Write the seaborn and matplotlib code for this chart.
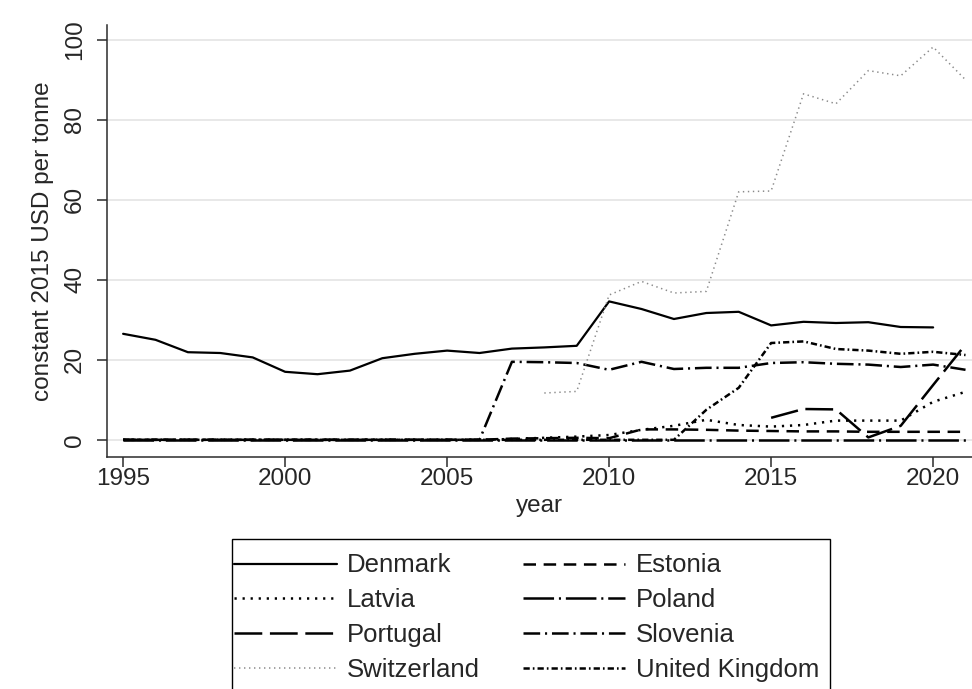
import matplotlib
matplotlib.use("Agg")
import matplotlib.pyplot as plt
from matplotlib.patches import Rectangle
import seaborn as sns
import pandas as pd

# --- Data ---

years = list(range(1995, 2022))

denmark = [26.5, 25.0, 21.9, 21.7, 20.6, 17.0, 16.4, 17.3, 20.4, 21.5, 22.3, 21.7, 22.8, 23.1,
           23.5, 34.6, 32.7, 30.2, 31.7, 32.0, 28.6, 29.5, 29.2, 29.4, 28.2, 28.1, None]
estonia = [0, 0, 0, 0, 0, 0, 0, 0, 0, 0, 0, 0, 0.3, 0.4,
           0.5, 0.4, 2.6, 2.6, 2.5, 2.3, 2.2, 2.1, 2.1, 2.0, 2.0, 2.0, 2.0]
latvia = [0, 0, 0, 0, 0, 0, 0, 0, 0, 0, 0, 0, 0.2, 0.5,
          0.8, 1.2, 2.5, 3.5, 5.0, 3.7, 3.3, 3.7, 4.8, 4.8, 4.8, 9.5, 12.0]
poland = [0, 0, 0, 0, 0, 0, 0, 0, 0, 0, 0, 0, 0, 0,
          0, 0, 0, 0, 0, 0, 0, 0, 0, 0, 0, 0, 0]
portugal = [None, None, None, None, None, None, None, None, None, None, None, None, None, None,
            None, None, None, None, None, None, 5.5, 7.7, 7.6, 0.6, 3.5, 13.7, 23.8]
slovenia = [0, 0, 0, 0, 0, 0, 0, 0, 0, 0, 0, 0, 19.5, 19.4,
            19.2, 17.5, 19.5, 17.7, 18.0, 18.0, 19.2, 19.4, 19.0, 18.8, 18.2, 18.8, 17.5]
switzerland = [None, None, None, None, None, None, None, None, None, None, None, None, None, 11.7,
               12.1, 36.2, 39.6, 36.7, 37.1, 62.0, 62.2, 86.5, 84.0, 92.3, 91.0, 98.2, 90.0]
united_kingdom = [0, 0, 0, 0, 0, 0, 0, 0, 0, 0, 0, 0, 0, 0,
                  0, 0, 0, 0, 7.5, 13.0, 24.2, 24.6, 22.7, 22.3, 21.5, 22.0, 21.2]

countries = ["Denmark", "Estonia", "Latvia", "Poland", "Portugal",
             "Slovenia", "Switzerland", "United Kingdom"]
series = [denmark, estonia, latvia, poland, portugal, slovenia, switzerland, united_kingdom]

# --- Styles (dash patterns in points, Stata mono look) ---

dash_styles = {
    "Denmark": "-",
    "Estonia": (0, (9, 5.5)),
    "Latvia": (0, (1.6, 4.2)),
    "Poland": (0, (22, 3.5, 1.5, 3.5)),
    "Portugal": (0, (20, 5.5)),
    "Slovenia": (0, (12, 3.5, 1.5, 3.5)),
    "Switzerland": (0, (1.0, 2.6)),
    "United Kingdom": (0, (4.5, 2.2, 1.2, 2.2)),
}
colors = {c: "black" for c in countries}
colors["Switzerland"] = "#8a8a8a"
widths = {c: 1.8 for c in countries}
widths["Denmark"] = 1.6
widths["Switzerland"] = 1.1

sns.set_style("white")
plt.rcParams["font.family"] = ["Liberation Sans", "DejaVu Sans"]
plt.rcParams["lines.scale_dashes"] = False

df = pd.DataFrame({"year": years})
for name, vals in zip(countries, series):
    df[name] = pd.to_numeric(pd.Series(vals, dtype="float"))

fig = plt.figure(figsize=(9.72, 6.89), dpi=100)
ax = fig.add_axes([0.110, 0.337, 0.89, 0.627])

for name in countries:
    sub = df[["year", name]].dropna()
    sns.lineplot(data=sub, x="year", y=name, ax=ax, color=colors[name],
                 linestyle=dash_styles[name], linewidth=widths[name], label=name)

ax.set_xlim(1994.5, 2021.2)
ax.set_ylim(-4.25, 103.75)
ax.set_xticks([1995, 2000, 2005, 2010, 2015, 2020])
ax.set_yticks([0, 20, 40, 60, 80, 100])
ax.yaxis.grid(True, color="#e6e6e6", linewidth=1.3)
ax.xaxis.grid(False)
ax.set_axisbelow(True)

for side in ["top", "right"]:
    ax.spines[side].set_visible(False)
for side in ["left", "bottom"]:
    ax.spines[side].set_color("#2b2b2b")
    ax.spines[side].set_linewidth(1.1)

ax.tick_params(axis="both", which="major", labelsize=17.5, length=7, width=1.1,
               color="#2b2b2b", direction="out", bottom=True, left=True)
ax.tick_params(axis="x", pad=1)
ax.tick_params(axis="y", pad=8, labelrotation=90)
for lab in ax.get_yticklabels():
    lab.set_verticalalignment("center")

ax.set_xlabel("year", fontsize=17.5, labelpad=4)
ax.set_ylabel("constant 2015 USD per tonne", fontsize=17.5, labelpad=7)

# legend: Stata fills rows first, matplotlib fills columns first
handles, labels = ax.get_legend_handles_labels()
ax.get_legend().remove()
order = ["Denmark", "Latvia", "Portugal", "Switzerland",
         "Estonia", "Poland", "Slovenia", "United Kingdom"]
h_map = dict(zip(labels, handles))
fig.legend([h_map[n] for n in order], order, loc="upper left",
           bbox_to_anchor=(234 / 972, 1 - 553.5 / 689), ncol=2, fontsize=18.5,
           frameon=False, handlelength=4.0, handletextpad=0.39, columnspacing=1.67,
           labelspacing=0.42, borderpad=0, borderaxespad=0)

# Stata-style key box (touches the keys on the left, open at the image bottom)
fig.add_artist(Rectangle((232 / 972, -0.01), (830 - 232) / 972, 0.01 + 1 - 539 / 689,
                         transform=fig.transFigure, fill=False, edgecolor="black",
                         linewidth=1.0))

fig.savefig("out.png", dpi=100)
plt.close()
